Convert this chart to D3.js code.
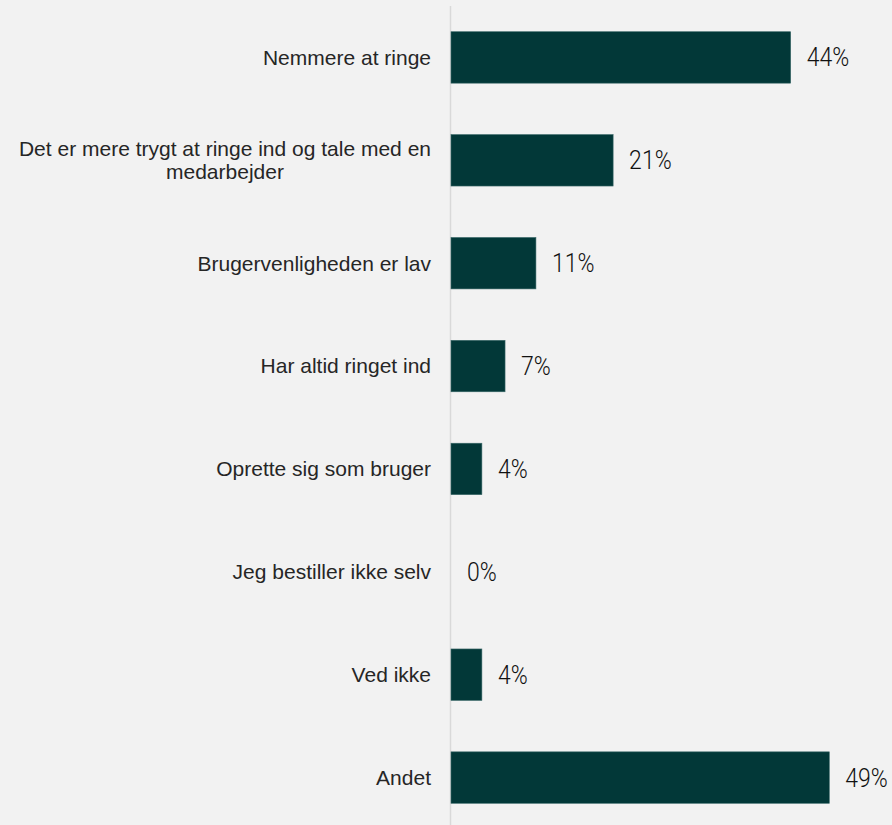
<!DOCTYPE html>
<html>
<head>
<meta charset="utf-8">
<script src="https://cdn.jsdelivr.net/npm/d3@7"></script>
<style>
  html, body { margin: 0; padding: 0; background: #f2f2f2; }
  svg { display: block; }
</style>
</head>
<body>
<svg id="chart" width="892" height="825"></svg>
<script>
// Survey answers and their shares (percent)
const categories = [
  "Nemmere at ringe",
  "Det er mere trygt at ringe ind og tale med en medarbejder",
  "Brugervenligheden er lav",
  "Har altid ringet ind",
  "Oprette sig som bruger",
  "Jeg bestiller ikke selv",
  "Ved ikke",
  "Andet"
];
const values = [44, 21, 11, 7, 4, 0, 4, 49];
const valueLabels = ["44%", "21%", "11%", "7%", "4%", "0%", "4%", "49%"];

const W = 892, H = 825;
const svg = d3.select("#chart");
svg.append("rect").attr("width", W).attr("height", H).attr("fill", "#f2f2f2");

const x = d3.scaleLinear().domain([0, 50]).range([451, 837]);
const y = d3.scaleBand().domain(categories).range([6, 829])
  .paddingInner(0.5).paddingOuter(0.25);

// vertical baseline
svg.append("line")
  .attr("x1", 450.5).attr("x2", 450.5)
  .attr("y1", 6).attr("y2", H)
  .attr("stroke", "#d9d9d9").attr("stroke-width", 1.5);

const data = categories.map((c, i) => ({ c, v: values[i], l: valueLabels[i] }));

// bars
svg.append("g").selectAll("rect").data(data.filter(d => d.v > 0)).join("rect")
  .attr("x", x(0))
  .attr("y", d => y(d.c))
  .attr("width", d => x(d.v) - x(0))
  .attr("height", y.bandwidth())
  .attr("fill", "#023838")
  .attr("stroke", "#3a6868")
  .attr("stroke-width", 0.6);

// value labels (narrow, light digits)
svg.append("g").selectAll("text").data(data).join("text")
  .attr("transform", d => `translate(${x(d.v) + 16},${y(d.c) + y.bandwidth() / 2}) scale(0.92,1)`)
  .attr("dy", "0.36em")
  .attr("font-family", "Roboto, 'DejaVu Sans Condensed', sans-serif")
  .attr("font-weight", 300)
  .attr("font-size", 25)
  .attr("fill", "#111")
  .text(d => d.l);

// category labels, wrapped and centred within a right-aligned block
const labelRight = 431, maxW = 425, lineH = 23, fs = 21;
const measure = svg.append("text")
  .attr("font-family", "'Liberation Sans', Arial, sans-serif")
  .attr("font-size", fs);
function width(s) { measure.text(s); return measure.node().getComputedTextLength(); }
function wrap(s) {
  const words = s.split(" ");
  const lines = [];
  let cur = "";
  for (const w of words) {
    const t = cur ? cur + " " + w : w;
    if (cur && width(t) > maxW) { lines.push(cur); cur = w; }
    else cur = t;
  }
  lines.push(cur);
  return lines;
}

const lg = svg.append("g");
data.forEach(d => {
  const lines = wrap(d.c);
  const bw = d3.max(lines, width);
  const cx = labelRight - bw / 2;
  const cy = y(d.c) + y.bandwidth() / 2;
  const t = lg.append("text")
    .attr("font-family", "'Liberation Sans', Arial, sans-serif")
    .attr("font-size", fs)
    .attr("fill", "#262626")
    .attr("text-anchor", "middle");
  lines.forEach((ln, i) => {
    t.append("tspan")
      .attr("x", cx)
      .attr("y", cy + (i - (lines.length - 1) / 2) * lineH)
      .attr("dy", "0.35em")
      .text(ln);
  });
});
measure.remove();
</script>
</body>
</html>
